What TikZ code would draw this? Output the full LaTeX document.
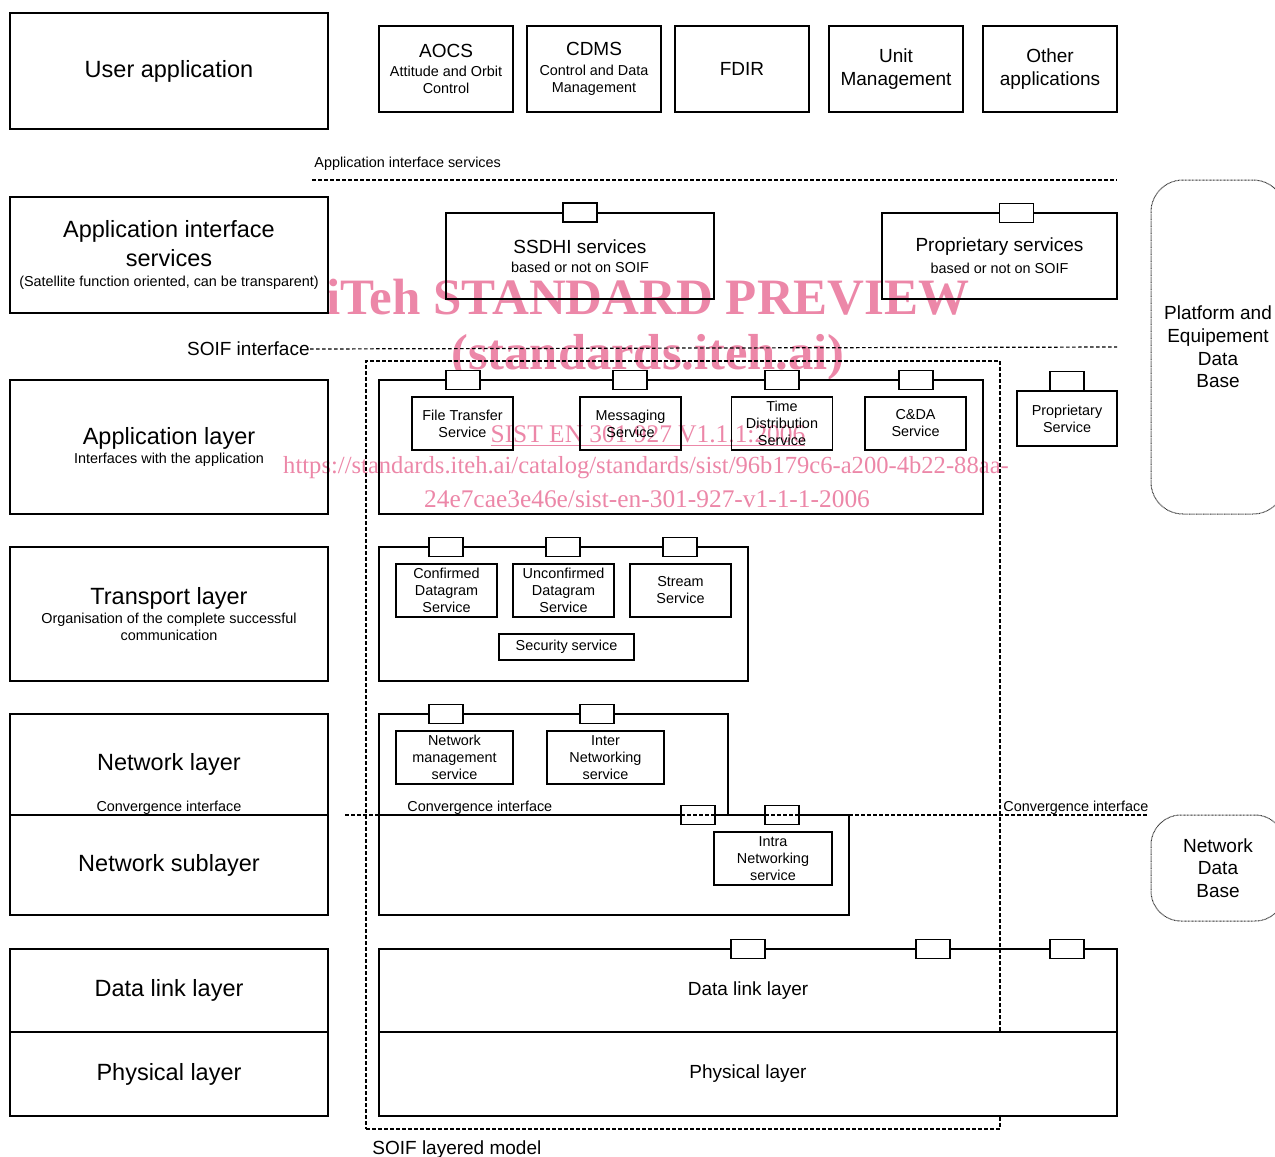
\documentclass[tikz,border=0pt]{standalone}
\usepackage{fontspec}
\setmainfont{Liberation Sans}
\newfontfamily\wmfont{Liberation Serif}
\usepackage{tikz}
\usetikzlibrary{positioning}
\definecolor{wmpink}{RGB}{236,135,168}
\newcommand{\bigsz}{\fontsize{11.75pt}{14.5pt}\selectfont}
\newcommand{\midsz}{\fontsize{9.5pt}{11.3pt}\selectfont}
\newcommand{\smallsz}{\fontsize{7.2pt}{8.5pt}\selectfont}

\begin{document}
\begin{tikzpicture}[x=0.5pt, y=-0.5pt,
    box/.style={draw, line width=0.75pt, inner sep=0pt, align=center, font=\smallsz},
    layerbox/.style={box, minimum width=159pt},
    appbox/.style={box, minimum width=67pt, minimum height=43pt},
    svcbox/.style={box, minimum width=50.5pt, minimum height=26.5pt},
    port/.style={draw, line width=0.75pt, fill=white, inner sep=0pt, minimum width=17pt, minimum height=9.5pt},
    ifline/.style={line width=0.6pt, dash pattern=on 1.8pt off 1.2pt},
    dbbox/.style={draw=black!80, line width=0.5pt, dash pattern=on 0.4pt off 0.3pt, rounded corners=16pt, inner sep=0pt, align=center, font=\midsz},
    lbl/.style={inner sep=0pt, align=center, yshift=-1pt},
    wm/.style={text=wmpink, inner sep=0pt, align=center}
]
    \useasboundingbox (0,0) rectangle (1275,1157);

    % watermark
    \node[wm, font=\wmfont\bfseries\fontsize{25.5pt}{30pt}\selectfont] (wmtitle) at (648,297) {iTeh STANDARD PREVIEW};
    \node[wm, font=\wmfont\bfseries\fontsize{25.3pt}{30pt}\selectfont] (wmsite) at (648,357) {(standards.iteh.ai)};
    \node[wm, font=\wmfont\fontsize{12.7pt}{15pt}\selectfont] (wmref) at (648,436) {\underline{SIST EN 301 927 V1.1.1:2006}};
    \node[wm, font=\wmfont\fontsize{12.3pt}{15pt}\selectfont] (wmurl) at (646,468) {https://standards.iteh.ai/catalog/standards/sist/96b179c6-a200-4b22-88aa-};
    \node[wm, font=\wmfont\fontsize{12.7pt}{15pt}\selectfont] (wmurlb) at (647,499) {24e7cae3e46e/sist-en-301-927-v1-1-1-2006};

    % left column
    \node[layerbox, minimum height=58pt, font=\bigsz] (userapp) at (169,71) {User application};
    \node[layerbox, minimum height=58pt] (aislayer) at (169,255) {{\bigsz Application interface}\\[2.6pt]{\bigsz services}\\[1.4pt](Satellite function oriented, can be transparent)};
    \node[layerbox, minimum height=67pt] (applayer) at (169,447) {{\bigsz Application layer}\\[1.4pt]Interfaces with the application};
    \node[layerbox, minimum height=67pt] (transport) at (169,614) {{\bigsz Transport layer}\\[1.4pt]Organisation of the complete successful\\communication};
    \node[layerbox, minimum height=50.5pt, font=\bigsz] (netlayer) at (169,764.5) {Network layer};
    \node[layerbox, minimum height=50pt, font=\bigsz] (netsub) at (169,865) {Network sublayer};
    \node[lbl, font=\smallsz] (convlbla) at (169,806) {Convergence interface};
    \node[layerbox, minimum height=41.5pt, font=\bigsz] (dlleft) at (169,990.5) {Data link layer};
    \node[layerbox, minimum height=42pt, font=\bigsz] (phyleft) at (169,1074) {Physical layer};

    % applications
    \node[appbox] (aocs) at (446,69) {{\midsz AOCS}\\[1.2pt]Attitude and Orbit\\Control};
    \node[appbox] (cdms) at (594,69) {{\midsz CDMS}\\[1.2pt]Control and Data\\Management};
    \node[appbox, font=\midsz] (fdir) at (742,69) {FDIR};
    \node[appbox, font=\midsz] (unitmgmt) at (896,69) {Unit\\Management};
    \node[appbox, font=\midsz] (otherapps) at (1050,69) {Other\\applications};

    % application interface services
    \node[lbl, anchor=west, font=\smallsz] (aislbl) at (314,162) {Application interface services};
    \coordinate (aisL) at (312,180);
    \coordinate (aisR) at (1117,180);
    \draw[ifline] (aisL) -- (aisR);
    \node[box, minimum width=134pt, minimum height=43pt] (ssdhi) at (580,256) {{\midsz SSDHI services}\\[0.8pt]based or not on SOIF};
    \node[port] (ssdhiport) at (ssdhi.north) {};
    \node[box, minimum width=117.5pt, minimum height=43pt] (propsvc) at (999.5,256) {{\midsz Proprietary services}\\[2.6pt]based or not on SOIF};
    \node[port] (propport) at (1016.5,213) {};

    \node[lbl, anchor=east, font=\midsz] (soiflbl) at (310,347) {SOIF interface};
    \coordinate (soifR) at (1117,347);
    \draw[ifline] (soiflbl.east) -- (soifR);

    \node[draw, ifline, minimum width=317pt, minimum height=384pt, inner sep=0pt] (soifmodel) at (683,745) {};
    \node[lbl, anchor=west, font=\midsz] (modellbl) at (372,1148) {SOIF layered model};

    % application layer
    \node[box, minimum width=302pt, minimum height=67pt] (appcont) at (681,447) {};
    \node[port] (ftport) at (463,380) {};
    \node[port] (msgport) at (630,380) {};
    \node[port] (tdport) at (782,380) {};
    \node[port] (cdaport) at (916,380) {};
    \node[svcbox] (ftsvc) at (462.5,423.5) {File Transfer\\Service};
    \node[svcbox] (msgsvc) at (630.5,423.5) {Messaging\\Service};
    \node[svcbox] (tdsvc) at (782,423.5) {Time\\Distribution\\Service};
    \node[svcbox] (cdasvc) at (915.5,423.5) {C\&DA\\Service};
    \node[svcbox, minimum width=50pt, minimum height=27.5pt] (propsvcb) at (1067,418.5) {Proprietary\\Service};
    \node[port] (propportb) at (1067,381) {};

    \node[dbbox, minimum width=67pt, minimum height=167pt] (pfdb) at (1218,347) {Platform and\\Equipement\\Data\\Base};

    % transport layer
    \node[box, minimum width=184.5pt, minimum height=67pt] (trcont) at (563.5,614) {};
    \node[port] (cdport) at (446,547) {};
    \node[port] (udport) at (563,547) {};
    \node[port] (stport) at (680,547) {};
    \node[svcbox] (cdsvc) at (446.5,590.5) {Confirmed\\Datagram\\Service};
    \node[svcbox] (udsvc) at (563.5,590.5) {Unconfirmed\\Datagram\\Service};
    \node[svcbox] (stsvc) at (680.5,590.5) {Stream\\Service};
    \node[box, minimum width=67.5pt, minimum height=13pt] (secsvc) at (566.5,647) {Security service};

    % network layer
    \node[box, minimum width=174.5pt, minimum height=50.5pt] (netup) at (553.5,764.5) {};
    \node[box, minimum width=235pt, minimum height=50pt] (netlow) at (614,865) {};
    \node[port] (nmport) at (446,714) {};
    \node[port] (interport) at (597,714) {};
    \node[svcbox, minimum width=58.5pt] (nmsvc) at (454.5,757.5) {Network\\management\\service};
    \node[svcbox, minimum width=58.5pt] (intersvc) at (605.5,757.5) {Inter\\Networking\\service};
    \node[lbl, anchor=west, font=\smallsz] (convlblb) at (407,806) {Convergence interface};
    \node[port] (convporta) at (698,815) {};
    \node[port] (convportb) at (782,815) {};
    \node[svcbox, minimum width=59pt] (intrasvc) at (773,858.5) {Intra\\Networking\\service};
    \coordinate (convL) at (345,815);
    \coordinate (convR) at (1147,815);
    \draw[ifline] (convL) -- (convR);
    \node[lbl, anchor=west, font=\smallsz] (convlblc) at (1003,806) {Convergence interface};

    \node[dbbox, rounded corners=15pt, minimum width=67pt, minimum height=53pt] (netdb) at (1218,868) {Network\\Data\\Base};

    % data link and physical
    \node[box, minimum width=369pt, minimum height=41.5pt, font=\midsz] (dlright) at (748,990.5) {Data link layer};
    \node[box, fill=white, minimum width=369pt, minimum height=42pt, font=\midsz] (phyright) at (748,1074) {Physical layer};
    \node[port] (dlporta) at (748,949) {};
    \node[port] (dlportb) at (933,949) {};
    \node[port] (dlportc) at (1067,949) {};
\end{tikzpicture}
\end{document}
